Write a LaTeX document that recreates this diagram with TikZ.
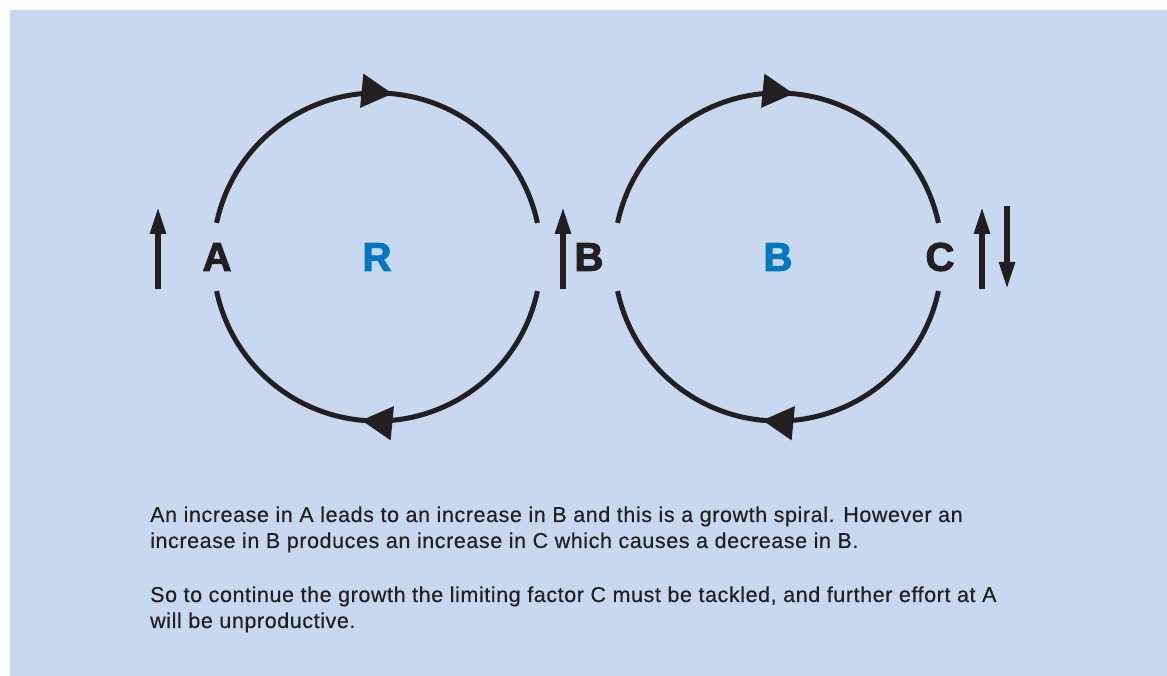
\documentclass[tikz,border=0pt]{standalone}
\usepackage{fontspec}
\setmainfont{Liberation Sans}
\newfontfamily\heavyfont[FakeBold=2.5]{Liberation Sans Bold}
\newfontfamily\notefont[FakeBold=0.4, LetterSpace=2.7]{Liberation Sans}
\usetikzlibrary{arrows.meta, decorations.markings}

\definecolor{loopbg}{RGB}{200,216,240}
\definecolor{loopink}{RGB}{35,31,32}
\definecolor{loopblue}{RGB}{0,119,192}

\begin{document}
\begin{tikzpicture}[x=1pt, y=1pt,
    var/.style={font=\fontsize{40}{40}\heavyfont, text=loopink, inner sep=0pt},
    looptype/.style={font=\fontsize{40}{40}\heavyfont, text=loopblue, inner sep=0pt},
    flow/.style={loopink, line width=5pt, postaction={decorate},
        decoration={markings, mark=at position 0.535 with {\arrow{Triangle[length=31pt, width=33pt]}}}},
    trend/.style={loopink, line width=5.5pt, -{Triangle[length=27pt, width=15pt]}}]
    \fill[loopbg] (10,0) rectangle (1167,666);
    \useasboundingbox (0,0) rectangle (1167,676);

    \node[var] (A) at (217,419) {A};
    \node[looptype] (R) at (377,419) {R};
    \node[var] (B) at (589,419) {B};
    \node[looptype] (Bal) at (778,419) {B};
    \node[var] (C) at (940,419) {C};

    % the two loops, broken at the variables
    \foreach \n in {R, Bal} {
        \draw[flow] ([shift={(168:164)}]\n.center) arc[start angle=168, end angle=12, radius=164];
        \draw[flow] ([shift={(-12:164)}]\n.center) arc[start angle=-12, end angle=-168, radius=164];
    }

    % rising / falling
    \coordinate (Alow) at (158,387);
    \coordinate (Ahigh) at (158,469);
    \coordinate (Blow) at (563,387);
    \coordinate (Bhigh) at (563,469);
    \coordinate (Cuplow) at (982,387);
    \coordinate (Cuphigh) at (982,469);
    \coordinate (Cdownhigh) at (1007,470);
    \coordinate (Cdownlow) at (1007,387);
    \draw[trend] (Alow) -- (Ahigh);
    \draw[trend] (Blow) -- (Bhigh);
    \draw[trend] (Cuplow) -- (Cuphigh);
    \draw[trend] (Cdownhigh) -- (Cdownlow);

    \node[anchor=base west, align=left, text=loopink, font=\fontsize{21.5}{26}\notefont, inner sep=0pt] (note) at (150,48) {
        An increase in A leads to an increase in B and this is a growth spiral. However an\\
        increase in B produces an increase in C which causes a decrease in B.\\[28pt]
        So to continue the growth the limiting factor C must be tackled, and further effort at A\\
        will be unproductive.};
\end{tikzpicture}
\end{document}
